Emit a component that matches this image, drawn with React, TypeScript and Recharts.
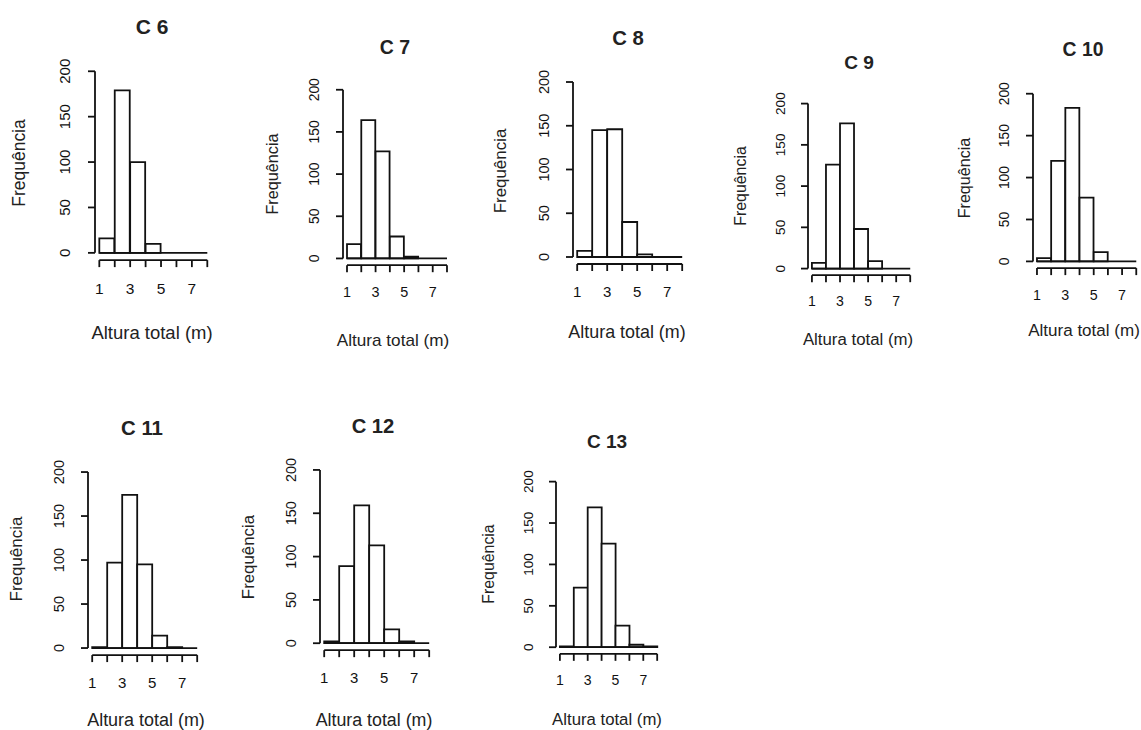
import { Bar, BarChart, ReferenceLine, XAxis, YAxis } from 'recharts';

// histogram bins (left edge of each 1 m class)
const BIN_START = [1, 2, 3, 4, 5, 6, 7];
const X_TICKS = [1, 2, 3, 4, 5, 6, 7, 8];
const X_LABELED = [1, 3, 5, 7];
const Y_TICKS = [0, 50, 100, 150, 200];

const TITLES = ['C 6', 'C 7', 'C 8', 'C 9', 'C 10', 'C 11', 'C 12', 'C 13'];
const C6 = [16, 179, 100, 10, 0, 0, 0];
const C7 = [17, 164, 127, 26, 2, 0, 0];
const C8 = [7, 145, 146, 40, 3, 0, 0];
const C9 = [7, 126, 176, 48, 9, 0, 0];
const C10 = [4, 120, 183, 76, 11, 0, 0];
const C11 = [1, 97, 174, 95, 14, 1, 0];
const C12 = [2, 89, 159, 113, 16, 2, 0];
const C13 = [1, 72, 169, 125, 26, 3, 1];
const COUNTS = [C6, C7, C8, C9, C10, C11, C12, C13];

const X_LABEL = 'Altura total (m)';
const Y_LABEL = 'Frequência';

// R-style plot region: 4% extension around xlim c(1,8) and ylim c(0,200)
const X_DOMAIN = [0.72, 8.28];
const Y_DOMAIN = [-8, 208];

// pixel placement of each panel: x of 1, x of 8, y of 0, y of 200, title / ylab / xlab centres
const LAYOUT = [
  { x1: 99.3, x8: 207.3, y0: 253.3, y200: 71.7, tx: 152, ty: 26, yx: 20, yy: 163, lx: 152, ly: 333 },
  { x1: 346.7, x8: 446.7, y0: 258.7, y200: 90, tx: 395, ty: 48, yx: 272, yy: 174, lx: 393, ly: 341 },
  { x1: 576.7, x8: 681.7, y0: 257.3, y200: 82.3, tx: 628, ty: 38, yx: 501, yy: 171, lx: 627, ly: 333 },
  { x1: 811.7, x8: 910, y0: 268.3, y200: 103.3, tx: 859, ty: 63, yx: 741, yy: 186, lx: 858, ly: 340 },
  { x1: 1036.7, x8: 1136, y0: 261.7, y200: 94, tx: 1083, ty: 50, yx: 964, yy: 178, lx: 1084, ly: 331 },
  { x1: 91.7, x8: 196.7, y0: 647.7, y200: 471.7, tx: 142, ty: 428, yx: 16, yy: 559, lx: 146, ly: 721 },
  { x1: 324, x8: 429, y0: 643.3, y200: 470, tx: 373, ty: 426, yx: 249, yy: 557, lx: 374, ly: 721 },
  { x1: 560, x8: 657.3, y0: 647.3, y200: 481.7, tx: 607, ty: 442, yx: 489, yy: 564, lx: 607, ly: 720 }
];

const FONT = '"Liberation Sans", Arial, sans-serif';
const INK = '#111';
const LW = 1.8;

function YTick({ x, y, payload, fs }: any) {
  return (
    <text
      x={x}
      y={y}
      transform={`rotate(-90 ${x} ${y})`}
      textAnchor="middle"
      style={{ fontSize: fs, fontFamily: FONT }}
      fill={INK}
    >
      {payload.value}
    </text>
  );
}

function XTick({ x, y, payload, fs }: any) {
  if (!X_LABELED.includes(payload.value)) return null;
  return (
    <text x={x} y={y} dy="0.71em" textAnchor="middle" style={{ fontSize: fs, fontFamily: FONT }} fill={INK}>
      {payload.value}
    </text>
  );
}

type HistProps = {
  title: string;
  counts: number[];
  box: (typeof LAYOUT)[number];
};

function Histogram({ title, counts, box }: HistProps) {
  const pxX = (box.x8 - box.x1) / 7;
  const pxY = (box.y0 - box.y200) / 200;
  // each panel was pasted at a slightly different zoom
  const k = (pxX / 15.43 + pxY / 0.908) / 2;
  const plotLeft = box.x1 - 0.28 * pxX;
  const plotRight = box.x8 + 0.28 * pxX;
  const plotTop = box.y200 - 8 * pxY;
  const plotBottom = box.y0 + 8 * pxY;
  const YW = 40;
  const XH = 44;
  const MT = 6;
  const MR = 6;
  const width = YW + (plotRight - plotLeft) + MR;
  const height = MT + (plotBottom - plotTop) + XH;
  const pad = 0.28 * pxX;
  const data = BIN_START.map((b, i) => ({ bin: b, n: counts[i] }));

  return (
    <>
      <div style={{ position: 'absolute', left: plotLeft - YW, top: plotTop - MT }}>
        <BarChart
          width={width}
          height={height}
          data={data}
          margin={{ top: MT, right: MR, left: 0, bottom: 0 }}
          barCategoryGap={0}
          barGap={0}
        >
          <XAxis
            xAxisId="n"
            dataKey="bin"
            type="number"
            domain={X_DOMAIN}
            allowDataOverflow
            ticks={X_TICKS}
            interval={0}
            height={XH}
            axisLine={false}
            tickLine={{ stroke: INK, strokeWidth: LW }}
            tickSize={7}
            tickMargin={15.5 * k}
            tick={(p: any) => <XTick {...p} fs={15.5 * k} />}
          />
          <XAxis xAxisId="c" dataKey="bin" type="category" hide height={0} padding={{ left: pad, right: pad }} />
          <YAxis
            yAxisId="y"
            type="number"
            domain={Y_DOMAIN}
            allowDataOverflow
            ticks={Y_TICKS}
            interval={0}
            width={YW}
            axisLine={false}
            tickLine={{ stroke: INK, strokeWidth: LW }}
            tickSize={7}
            tickMargin={18 * k}
            tick={(p: any) => <YTick {...p} fs={15 * k} />}
          />
          <Bar
            xAxisId="c"
            yAxisId="y"
            dataKey="n"
            fill="#ffffff"
            stroke={INK}
            strokeWidth={LW}
            isAnimationActive={false}
          />
          <ReferenceLine
            xAxisId="n"
            yAxisId="y"
            segment={[{ x: 1, y: 0 }, { x: 8, y: 0 }]}
            stroke={INK}
            strokeWidth={LW}
            ifOverflow="visible"
          />
          <ReferenceLine
            xAxisId="n"
            yAxisId="y"
            segment={[{ x: 1, y: Y_DOMAIN[0] }, { x: 8, y: Y_DOMAIN[0] }]}
            stroke={INK}
            strokeWidth={LW}
            ifOverflow="visible"
          />
          <ReferenceLine
            xAxisId="n"
            yAxisId="y"
            segment={[{ x: X_DOMAIN[0], y: 0 }, { x: X_DOMAIN[0], y: 200 }]}
            stroke={INK}
            strokeWidth={LW}
            ifOverflow="visible"
          />
        </BarChart>
      </div>
      <div style={{ ...centred(box.tx, box.ty), fontSize: 21 * k, fontWeight: 'bold', color: '#222' }}>{title}</div>
      <div style={{ ...centred(box.lx, box.ly), fontSize: 18.5 * k, color: '#222' }}>{X_LABEL}</div>
      <div
        style={{
          ...centred(box.yx, box.yy),
          fontSize: 17.5 * k,
          color: '#222',
          transform: 'translate(-50%, -50%) rotate(-90deg)'
        }}
      >
        {Y_LABEL}
      </div>
    </>
  );
}

function centred(x: number, y: number) {
  return {
    position: 'absolute' as const,
    left: x,
    top: y,
    transform: 'translate(-50%, -50%)',
    whiteSpace: 'nowrap' as const,
    fontFamily: FONT,
    lineHeight: 1
  };
}

export default function App() {
  return (
    <div style={{ position: 'absolute', left: 0, top: 0, width: 1141, height: 730, background: '#fff' }}>
      {TITLES.map((t, i) => (
        <Histogram key={t} title={t} counts={COUNTS[i]} box={LAYOUT[i]} />
      ))}
    </div>
  );
}
